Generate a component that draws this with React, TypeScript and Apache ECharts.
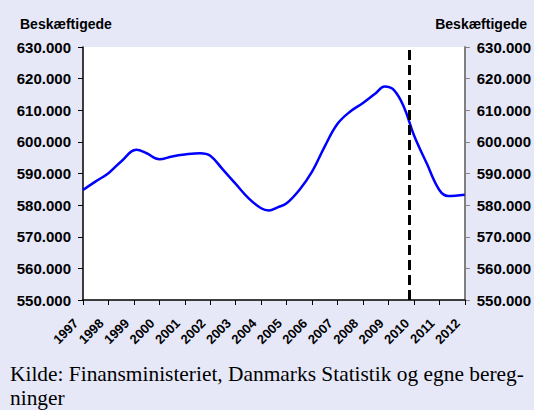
import React, { useEffect, useRef } from "react";
import * as echarts from "echarts";

const periods = [
  1997, 1997.5, 1998, 1998.5, 1999.1, 1999.5, 2000, 2000.5, 2001, 2001.6, 2002,
  2002.5, 2003, 2003.5, 2004, 2004.3, 2004.65, 2005, 2005.5, 2006, 2006.5, 2007,
  2007.5, 2008, 2008.5, 2008.85, 2009.2, 2009.6, 2010, 2010.5, 2011, 2011.35, 2012,
];
const employed = [
  584800, 587500, 590100, 593800, 597500, 596400, 594500, 595400, 596000, 596400, 595600,
  591200, 586700, 582200, 579000, 578300, 579300, 580600, 584800, 590600, 598600, 605700,
  609600, 612300, 615400, 617500, 616500, 611200, 602200, 593300, 584800, 582900, 583300,
];
const forecastStart = 2009.8;
const yTitle = "Beskæftigede";
const sourceText = "Kilde: Finansministeriet, Danmarks Statistik og egne bereg-\nninger";
const yMin = 550000;
const yMax = 630000;
const yStep = 10000;
const xMin = 1997;
const xMax = 2012;

const fmt = (v: number) => String(Math.round(v)).replace(/\B(?=(\d{3})+(?!\d))/g, ".");
const SANS = '"Liberation Sans", Arial, Helvetica, sans-serif';
const SERIF = '"Liberation Serif", "Times New Roman", serif';

export default function App() {
  const ref = useRef<HTMLDivElement>(null);
  useEffect(() => {
    if (!ref.current) return;
    const chart = echarts.init(ref.current, undefined, { renderer: "svg" });
    const yAxisBase = (position: "left" | "right", color: string, width: number) => ({
      type: "value" as const,
      position,
      min: yMin,
      max: yMax,
      interval: yStep,
      axisLine: { show: true, lineStyle: { color, width } },
      axisTick: { show: true, length: 5, lineStyle: { color, width: 1 } },
      splitLine: { show: false },
      axisLabel: {
        color: "#000",
        fontFamily: SANS,
        fontWeight: "bold" as const,
        fontSize: 15,
        margin: 12,
        formatter: (v: number) => fmt(v),
      },
    });
    chart.setOption({
      animation: false,
      backgroundColor: "#E6E8F8",
      title: [
        {
          text: yTitle,
          left: 15,
          top: 12,
          textStyle: { fontFamily: SANS, fontWeight: "bold", fontSize: 14, color: "#000" },
        },
        {
          text: yTitle,
          right: 2,
          top: 12,
          textStyle: { fontFamily: SANS, fontWeight: "bold", fontSize: 14, color: "#000" },
        },
      ],
      grid: {
        left: 83,
        right: 69,
        top: 47,
        bottom: 110,
        show: true,
        backgroundColor: "#FFFFFF",
        borderWidth: 0,
      },
      xAxis: {
        type: "value",
        min: xMin,
        max: xMax,
        interval: 1,
        axisLine: { show: true, onZero: false, lineStyle: { color: "#000", width: 1.5 } },
        axisTick: { show: true, length: 5, lineStyle: { color: "#000", width: 1 } },
        splitLine: { show: false },
        axisLabel: {
          rotate: 45,
          margin: 14,
          padding: [0, 10, 0, 0],
          color: "#000",
          fontFamily: SANS,
          fontWeight: "bold",
          fontSize: 13,
          formatter: (v: number) => String(Math.round(v)),
        },
      },
      yAxis: [yAxisBase("left", "#000", 1.5), yAxisBase("right", "#808080", 2)],
      series: [
        {
          type: "line",
          yAxisIndex: 0,
          data: periods.map((p, i) => [p, employed[i]]),
          smooth: 0.4,
          showSymbol: false,
          lineStyle: { color: "#0000FF", width: 2.5 },
          markLine: {
            silent: true,
            symbol: "none",
            label: { show: false },
            lineStyle: { color: "#000", width: 3, type: [10, 5] },
            data: [{ xAxis: forecastStart }],
          },
        },
      ],
      graphic: [
        {
          type: "text",
          left: 10,
          top: 362,
          style: {
            text: sourceText,
            font: `21.4px ${SERIF}`,
            lineHeight: 24,
            fill: "#000",
          },
        },
      ],
    });
    return () => chart.dispose();
  }, []);
  return (
    <div
      ref={ref}
      style={{ position: "fixed", left: 0, top: 0, width: 534, height: 410 }}
    />
  );
}
